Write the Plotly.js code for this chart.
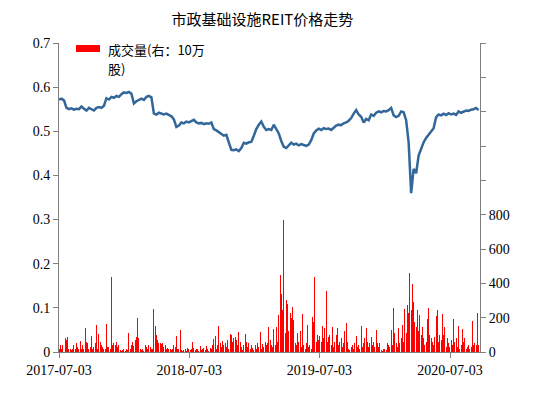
<!DOCTYPE html>
<html>
<head>
<meta charset="utf-8">
<script src="https://cdn.plot.ly/plotly-3.0.1.min.js"></script>
<style>html,body{margin:0;padding:0;background:#fff;}#chart{width:549px;height:397px;}</style>
</head>
<body>
<div id="chart"></div>
<script>
// ---- data ----
const titleText = "市政基础设施REIT价格走势";
const legendLine1 = "成交量(右：10万";
const legendLine2 = "股)";
const startDate = "2017-07-03";
const endDate = "2020-09-25";
const xTickVals = ["2017-07-03", "2018-07-03", "2019-07-03", "2020-07-03"];
const xTickText = ["2017-07-03", "2018-07-03", "2019-07-03", "2020-07-03"];
const priceStepDays = 7;
const volumeStepDays = 3.5;

// weekly price (left axis)
const priceValues = [
  0.572,0.574,0.570,0.553,0.550,0.552,0.549,0.551,0.550,0.556,
  0.551,0.547,0.553,0.549,0.547,0.553,0.555,0.553,0.558,0.575,
  0.572,0.578,0.576,0.580,0.578,0.584,0.588,0.587,0.589,0.585,
  0.563,0.568,0.572,0.574,0.571,0.578,0.580,0.577,0.540,0.538,
  0.542,0.540,0.538,0.540,0.536,0.534,0.527,0.510,0.513,0.520,
  0.518,0.522,0.520,0.524,0.526,0.520,0.518,0.519,0.516,0.518,
  0.517,0.520,0.505,0.502,0.498,0.495,0.490,0.492,0.475,0.458,
  0.457,0.459,0.455,0.462,0.474,0.472,0.475,0.476,0.490,0.505,
  0.515,0.522,0.510,0.503,0.505,0.503,0.515,0.505,0.495,0.478,
  0.465,0.462,0.468,0.474,0.470,0.472,0.468,0.471,0.469,0.467,
  0.470,0.480,0.495,0.502,0.506,0.503,0.507,0.505,0.506,0.503,
  0.508,0.513,0.515,0.514,0.518,0.520,0.524,0.530,0.540,0.548,
  0.538,0.533,0.520,0.528,0.525,0.538,0.535,0.542,0.545,0.543,
  0.546,0.545,0.548,0.553,0.536,0.532,0.535,0.545,0.543,0.525,
  0.475,0.360,0.415,0.405,0.445,0.460,0.475,0.485,0.492,0.498,
  0.507,0.532,0.538,0.536,0.540,0.537,0.541,0.538,0.540,0.537,
  0.545,0.542,0.545,0.547,0.546,0.549,0.550,0.553,0.548
];

// volume (right axis, 10万股), every half week
const volumeValues = [
  20,40,20,40,75,80,70,90,15,20,
  10,15,40,20,50,30,20,65,15,40,
  20,138,60,55,20,30,93,20,30,50,
  157,20,105,60,40,30,15,20,163,30,
  30,15,435,40,50,40,60,30,40,10,
  5,10,20,5,20,10,109,20,40,60,
  35,70,85,198,80,20,10,20,5,40,
  30,20,40,30,15,20,250,152,100,70,
  50,50,45,50,30,40,20,25,15,20,
  10,20,40,30,95,20,15,128,10,5,
  10,15,5,25,15,10,20,60,25,10,
  15,20,5,35,10,20,25,10,35,15,
  5,25,15,40,78,93,20,40,150,50,
  30,66,40,55,30,70,20,105,99,60,
  80,90,70,40,115,60,30,10,40,105,
  60,30,50,15,40,25,10,40,20,50,
  30,117,20,45,30,60,40,55,148,70,
  40,30,132,40,148,60,216,449,336,245,
  769,109,303,280,120,225,200,264,186,50,
  40,109,60,120,30,222,40,20,50,157,
  30,40,20,204,175,437,60,100,70,93,
  60,150,80,140,356,60,90,100,40,148,
  30,60,100,138,40,60,80,30,50,120,
  169,60,20,10,30,40,20,50,95,30,
  40,20,152,30,50,80,138,60,30,50,
  90,40,60,30,128,50,30,50,10,5,
  15,20,10,50,40,30,126,40,256,109,
  50,30,138,50,80,157,60,251,109,274,
  225,460,245,396,293,177,148,245,120,216,
  100,148,80,40,60,192,254,100,80,60,
  40,90,210,245,60,100,70,220,100,148,
  30,80,50,30,70,40,193,60,80,30,
  150,20,40,132,60,80,20,30,40,20,
  30,181,40,50,40,225,40
];

const leftTickVals = [0,0.1,0.2,0.3,0.4,0.5,0.6,0.7];
const leftTickText = ["0","0.1","0.2","0.3","0.4","0.5","0.6","0.7"];
const rightTickVals = [0,200,400,600,800,1000,1200,1400,1600,1800];
const rightTickText = ["0","200","400","600","800","","","","",""];

// ---- date helpers ----
const DAY = 864e5;
const t0 = Date.parse(startDate + "T00:00:00Z");
function fmt(ms){
  const d = new Date(ms);
  const p = n => String(n).padStart(2,"0");
  return d.getUTCFullYear()+"-"+p(d.getUTCMonth()+1)+"-"+p(d.getUTCDate())+" "+p(d.getUTCHours())+":"+p(d.getUTCMinutes());
}
const priceDates = priceValues.map((_, i) => fmt(t0 + i*priceStepDays*DAY));
const volumeDates = volumeValues.map((_, i) => fmt(t0 + i*volumeStepDays*DAY));

const serif = "Liberation Serif, Times New Roman, serif";
const cjk = "Noto Sans CJK SC, serif";
const gray = "#808080";

const traces = [
  {
    type: "bar", x: volumeDates, y: volumeValues, yaxis: "y2",
    width: volumeStepDays*DAY*0.8,
    marker: {color: "#ff0000", line: {width: 0}},
    name: "成交量", showlegend: false
  },
  {
    type: "scatter", mode: "lines", x: priceDates, y: priceValues,
    line: {color: "#336699", width: 2.5}, name: "价格", showlegend: false
  }
];

const axisCommon = {
  showgrid: false, zeroline: false,
  showline: true, linecolor: gray, linewidth: 1,
  ticks: "outside", ticklen: 5, tickcolor: gray,
  tickfont: {family: serif, size: 14, color: "#000"}
};

const layout = {
  width: 549, height: 397,
  margin: {l: 59, r: 69, t: 43, b: 45, pad: 0},
  paper_bgcolor: "#fff", plot_bgcolor: "#fff",
  showlegend: false,
  bargap: 0,
  title: {
    text: titleText,
    font: {family: cjk, size: 15, color: "#000"},
    x: 0.478, xref: "container", xanchor: "center",
    y: 1 - 20/397, yref: "container", yanchor: "middle"
  },
  xaxis: Object.assign({
    type: "date", range: [startDate, endDate],
    tickvals: xTickVals, ticktext: xTickText
  }, axisCommon),
  yaxis: Object.assign({
    range: [0, 0.7], tickvals: leftTickVals, ticktext: leftTickText
  }, axisCommon),
  yaxis2: Object.assign({
    overlaying: "y", side: "right", range: [0, 1800],
    tickvals: rightTickVals, ticktext: rightTickText
  }, axisCommon),
  shapes: [
    {type: "rect", xref: "paper", yref: "paper",
     x0: (76-59)/421, x1: (100-59)/421, y0: (352-52)/309, y1: (352-45)/309,
     fillcolor: "#ff0000", line: {width: 0}}
  ],
  annotations: [
    {xref: "paper", yref: "paper", x: (106-59)/421, y: (352-50)/309,
     xanchor: "left", yanchor: "middle", align: "left", showarrow: false,
     text: legendLine1, font: {family: cjk, size: 13, color: "#000"}},
    {xref: "paper", yref: "paper", x: (106-59)/421, y: (352-68)/309,
     xanchor: "left", yanchor: "middle", align: "left", showarrow: false,
     text: legendLine2, font: {family: cjk, size: 13, color: "#000"}}
  ]
};

Plotly.newPlot("chart", traces, layout, {displayModeBar: false, staticPlot: true});
</script>
</body>
</html>
